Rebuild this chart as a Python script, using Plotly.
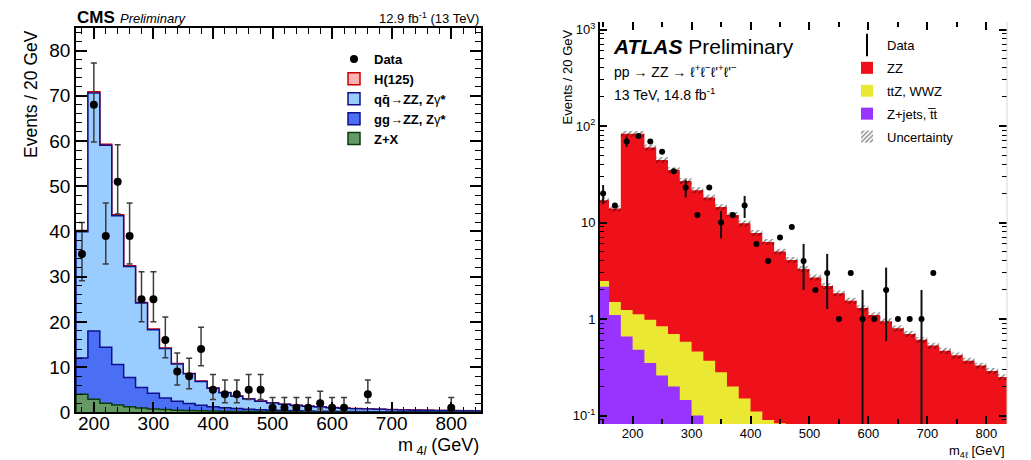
import numpy as np
import plotly.graph_objects as go

W, H = 1031, 460
FONT = "Liberation Sans"

# ---------------- CMS: four-lepton mass, 20 GeV bins 170-850 ----------------
cms_edges = list(range(170, 851, 20))
cms_h125 = [0.25, 0.30, 0.25, 0.20, 0.17, 0.14, 0.12, 0.10, 0.09, 0.08, 0.07, 0.06,
            0.05, 0.045, 0.04, 0.035, 0.03, 0.03, 0.025, 0.025, 0.02, 0.02, 0.02, 0.018,
            0.016, 0.015, 0.014, 0.013, 0.012, 0.011, 0.01, 0.01, 0.01, 0.01]
cms_qqzz = [27.95, 52.6, 44.65, 32.9, 24.53, 18.66, 14.08, 10.95, 8.26, 6.57, 5.28, 4.09,
            3.35, 2.74, 2.29, 1.91, 1.60, 1.37, 1.19, 1.04, 0.93, 0.81, 0.72, 0.64,
            0.57, 0.52, 0.47, 0.42, 0.38, 0.35, 0.32, 0.30, 0.27, 0.25]
cms_ggzz = [8.0, 15.1, 12.4, 9.0, 6.5, 4.55, 3.45, 2.55, 1.97, 1.55, 1.22, 0.98,
            0.78, 0.64, 0.52, 0.44, 0.37, 0.32, 0.27, 0.23, 0.20, 0.175, 0.15, 0.135,
            0.12, 0.10, 0.096, 0.089, 0.081, 0.073, 0.065, 0.062, 0.058, 0.054]
cms_zx = [4.0, 2.9, 2.0, 1.6, 1.2, 0.95, 0.75, 0.6, 0.48, 0.4, 0.33, 0.27,
          0.22, 0.18, 0.15, 0.12, 0.10, 0.085, 0.07, 0.06, 0.05, 0.045, 0.04, 0.035,
          0.03, 0.027, 0.024, 0.021, 0.019, 0.017, 0.015, 0.013, 0.012, 0.011]

cms_data_m = [180, 200, 220, 240, 260, 280, 300, 320, 340, 360, 380, 400, 420,
              440, 460, 480, 500, 520, 540, 560, 580, 600, 620, 660, 800]
cms_data_n = [35, 68, 39, 51, 39, 25, 25, 16, 9, 8, 14, 5, 4,
              4, 5, 5, 1, 1, 1, 1, 2, 1, 1, 4, 1]
cms_err_lo = [5.88, 8.22, 6.21, 7.12, 6.21, 4.96, 4.96, 3.95, 2.94, 2.77, 3.69, 2.16, 1.91,
              1.91, 2.16, 2.16, 0.83, 0.83, 0.83, 0.83, 1.29, 0.83, 0.83, 1.91, 0.83]
cms_err_hi = [6.97, 9.28, 7.29, 8.18, 7.29, 6.06, 6.06, 5.08, 4.10, 3.94, 4.83, 3.38, 3.16,
              3.16, 3.38, 3.38, 2.30, 2.30, 2.30, 2.30, 2.64, 2.30, 2.30, 3.16, 2.30]

# ---------------- ATLAS: four-lepton mass, 20 GeV bins 140-840 ----------------
atlas_edges = list(range(140, 841, 20))
atlas_zz = [14.5, 12.5, 81.8, 81.9, 59.0, 43.7, 34.3, 26.4, 21.2, 17.8, 14.2, 11.8,
            9.65, 7.69, 6.21, 4.92, 4.1, 3.3, 2.7, 2.2, 1.85, 1.55, 1.3, 1.1,
            0.95, 0.8, 0.7, 0.61, 0.53, 0.47, 0.42, 0.37, 0.33, 0.29, 0.25]
atlas_ttz_wwz = [0.32, 0.40, 0.58, 0.64, 0.63, 0.58, 0.50, 0.435, 0.36, 0.37, 0.28, 0.20,
                 0.15, 0.11, 0.09, 0.083, 0, 0, 0, 0, 0, 0, 0, 0,
                 0, 0, 0, 0, 0, 0, 0, 0, 0, 0, 0]
atlas_zjets_tt = [2.16, 1.10, 0.66, 0.48, 0.35, 0.26, 0.20, 0.145, 0.10, 0, 0, 0,
                  0, 0, 0, 0, 0, 0, 0, 0, 0, 0, 0, 0,
                  0, 0, 0, 0, 0, 0, 0, 0, 0, 0, 0]
atlas_syst = 0.07

atlas_data_m = [150, 170, 190, 210, 230, 250, 270, 290, 310, 330, 350, 370, 390, 410,
                430, 450, 470, 490, 510, 530, 550, 570, 590, 610, 630, 650, 670, 690, 710]
atlas_data_n = [20, 15, 69, 79, 69, 54, 34, 23, 12, 23, 10, 12, 15, 6,
                4, 7, 9, 4, 2, 3, 1, 3, 1, 1, 2, 1, 1, 1, 3]
atlas_err_up = [4.47, 0, 8.31, 0, 0, 0, 0, 4.80, 0, 0, 3.16, 0, 3.87, 0,
                0, 0, 0, 2.0, 0, 1.73, 0, 0, 1.0, 0, 1.41, 0, 0, 1.0, 0]
atlas_err_dn = [4.47, 0, 8.31, 0, 0, 0, 0, 4.80, 0, 0, 3.16, 0, 3.87, 0,
                0, 0, 0, 2.0, 0, 1.73, 0, 0, 0.92, 0, 1.41, 0, 0, 0.92, 0]


def step_polygon(edges, heights, floor):
    """Closed outline of a histogram drawn as steps down to `floor`."""
    xs, ys = [edges[0]], [floor]
    for lo, hi, h in zip(edges[:-1], edges[1:], heights):
        h = h if h > floor else floor
        xs += [lo, hi]
        ys += [h, h]
    xs.append(edges[-1])
    ys.append(floor)
    return xs, ys


def px_x(p):
    return p / W


def px_y(p):
    return 1 - p / H


fig = go.Figure()

# ---- CMS stacked histograms (drawn from the top of the stack downwards) ----
cms_layers = [cms_zx, cms_ggzz, cms_qqzz, cms_h125]
cms_cum = np.cumsum(np.array(cms_layers), axis=0)
cms_style = [  # fill, outline
    ("#669966", "#0b3d0b"),
    ("#4a6ff5", "#10108c"),
    ("#99ccff", "#10108c"),
    ("#ffb3b3", "#cc0000"),
]
for k in range(3, -1, -1):
    xs, ys = step_polygon(cms_edges, cms_cum[k], 0.0)
    fig.add_trace(go.Scatter(
        x=xs, y=ys, mode="lines", fill="toself",
        fillcolor=cms_style[k][0], line=dict(color=cms_style[k][1], width=1.5),
        showlegend=False, hoverinfo="skip", xaxis="x", yaxis="y"))

fig.add_trace(go.Scatter(
    x=cms_data_m, y=cms_data_n, mode="markers", name="Data",
    marker=dict(color="black", size=8),
    error_y=dict(type="data", symmetric=False, array=cms_err_hi, arrayminus=cms_err_lo,
                 color="#3c3c3c", thickness=1.5, width=3),
    legend="legend", legendrank=1, legendgroup="d", xaxis="x", yaxis="y"))

cms_leg = [
    ("H(125)", "#ffb3b3", "#cc0000"),
    ("qq\u0304\u2192ZZ, Z<span style='font-weight:normal'>\u03b3</span>*", "#99ccff", "#10108c"),
    ("gg\u2192ZZ, Z<span style='font-weight:normal'>\u03b3</span>*", "#4a6ff5", "#10108c"),
    ("Z+X", "#669966", "#0b3d0b"),
]
for i, (name, fc, lc) in enumerate(cms_leg):
    fig.add_trace(go.Bar(
        x=[None], y=[None], name=name,
        marker=dict(color=fc, line=dict(color=lc, width=1.5)),
        legend="legend", legendrank=2 + i, legendgroup="c%d" % i,
        xaxis="x", yaxis="y"))

# ---- ATLAS stacked histograms on a log scale ----
FLOOR = 1e-3
atlas_layers = [atlas_zjets_tt, atlas_ttz_wwz, atlas_zz]
atlas_cum = np.cumsum(np.array(atlas_layers), axis=0)
atlas_fill = ["#9933ff", "#ebe834", "#ee1119"]
for k in range(2, -1, -1):
    xs, ys = step_polygon(atlas_edges, atlas_cum[k], FLOOR)
    fig.add_trace(go.Scatter(
        x=xs, y=ys, mode="lines", fill="toself", fillcolor=atlas_fill[k],
        line=dict(width=0), showlegend=False, hoverinfo="skip",
        xaxis="x2", yaxis="y2"))

# uncertainty band around the total prediction
tot = atlas_cum[2]
ux, uy = step_polygon(atlas_edges, tot * (1 + atlas_syst), FLOOR)
lx, ly = step_polygon(atlas_edges, tot * (1 - atlas_syst), FLOOR)
band_x = ux[1:-1] + lx[1:-1][::-1]
band_y = uy[1:-1] + ly[1:-1][::-1]
fig.add_trace(go.Scatter(
    x=band_x, y=band_y, mode="lines", fill="toself", fillcolor="rgba(0,0,0,0)",
    fillpattern=dict(shape="/", fgcolor="black", bgcolor="rgba(0,0,0,0)", size=4, solidity=0.35),
    line=dict(width=0), showlegend=False, hoverinfo="skip", xaxis="x2", yaxis="y2"))

fig.add_trace(go.Scatter(
    x=atlas_data_m, y=atlas_data_n, mode="markers", showlegend=False,
    marker=dict(color="black", size=6),
    error_y=dict(type="data", symmetric=False, array=atlas_err_up, arrayminus=atlas_err_dn,
                 color="#111111", thickness=2, width=0),
    xaxis="x2", yaxis="y2"))

fig.add_trace(go.Scatter(
    x=[None], y=[None], mode="markers", name="Data",
    marker=dict(symbol="line-ns-open", size=16, color="black", line=dict(width=2, color="black")),
    legend="legend2", legendrank=1, legendgroup="a0", xaxis="x2", yaxis="y2"))
atlas_leg = [
    ("ZZ", dict(color="#ee1119")),
    ("ttZ, WWZ", dict(color="#ebe834")),
    ("Z+jets, t\u0305t", dict(color="#9933ff")),
    ("Uncertainty", dict(color="white",
                         pattern=dict(shape="/", fgcolor="black", size=4, solidity=0.4))),
]
for i, (name, mk) in enumerate(atlas_leg):
    fig.add_trace(go.Bar(
        x=[None], y=[None], name=name, marker=dict(line=dict(width=0), **mk),
        legend="legend2", legendrank=2 + i, legendgroup="a%d" % (i + 1),
        xaxis="x2", yaxis="y2"))

# ---- axes ----
cms_axis = dict(
    ticks="inside", tickcolor="black", tickwidth=1.5, ticklen=11,
    showline=True, linecolor="black", linewidth=1.5, mirror="allticks",
    showgrid=False, zeroline=False, fixedrange=True, layer="above traces",
    tickfont=dict(family=FONT, size=19, color="black"),
)
atlas_axis = dict(
    ticks="inside", tickcolor="black", tickwidth=1.5, ticklen=8,
    showline=True, linecolor="rgba(0,0,0,0)", linewidth=1, mirror="allticks",
    showgrid=False, zeroline=False, fixedrange=True, layer="above traces",
    tickfont=dict(family=FONT, size=13, color="black"),
)

fig.update_layout(
    width=W, height=H,
    margin=dict(l=0, r=0, t=0, b=0, pad=0, autoexpand=False),
    paper_bgcolor="white", plot_bgcolor="white",
    font=dict(family=FONT, color="black"),
    barmode="overlay", showlegend=True,
    xaxis=dict(domain=[px_x(76), px_x(481)], anchor="y", range=[170, 850],
               tick0=0, dtick=100, ticklabelstandoff=-7,
               minor=dict(dtick=20, tick0=0, ticks="inside", ticklen=6, tickwidth=1.2,
                          tickcolor="black"),
               **cms_axis),
    yaxis=dict(domain=[px_y(412.3), px_y(28)], anchor="x", range=[0, 85],
               tick0=0, dtick=10,
               minor=dict(dtick=2, tick0=0, ticks="inside", ticklen=6, tickwidth=1.2,
                          tickcolor="black"),
               **cms_axis),
    xaxis2=dict(domain=[px_x(599), px_x(1007)], anchor="y2", range=[143, 835],
                tick0=0, dtick=100, ticklabelstandoff=-3,
                minor=dict(dtick=50, tick0=0, ticks="inside", ticklen=5, tickwidth=1.5,
                           tickcolor="black"),
                **atlas_axis),
    yaxis2=dict(domain=[px_y(424), px_y(22)], anchor="x2", type="log",
                range=[-1.088, 3.078],
                tickmode="array", tickvals=[0.1, 1, 10, 100, 1000],
                ticktext=["10<sup>-1</sup>", "1", "10", "10<sup>2</sup>", "10<sup>3</sup>"],
                minor=dict(dtick="D1", ticks="inside", ticklen=5, tickwidth=1.2,
                           tickcolor="black"),
                **atlas_axis),
    legend=dict(x=px_x(334), y=px_y(44), xanchor="left", yanchor="top",
                bgcolor="rgba(0,0,0,0)", traceorder="grouped", tracegroupgap=0,
                font=dict(family=FONT, size=13, weight="bold", color="black")),
    legend2=dict(x=px_x(847), y=px_y(30), xanchor="left", yanchor="top",
                 bgcolor="rgba(0,0,0,0)", traceorder="grouped", tracegroupgap=3,
                 font=dict(family=FONT, size=13, color="black")),
)

# ATLAS frame: solid left axis, faint right edge
fig.add_shape(type="line", xref="x2 domain", yref="y2 domain", x0=0, x1=0, y0=0, y1=1,
              line=dict(color="black", width=2))
fig.add_shape(type="line", xref="x2 domain", yref="y2 domain", x0=1, x1=1, y0=0, y1=1,
              line=dict(color="#d8d8d8", width=1))


def note(text, x, y, size, xanchor="left", yanchor="middle", angle=0):
    fig.add_annotation(text=text, x=px_x(x), y=px_y(y), xref="paper", yref="paper",
                       xanchor=xanchor, yanchor=yanchor, textangle=angle, showarrow=False,
                       font=dict(family=FONT, size=size, color="black"))


# CMS labels
note("<b>CMS</b>", 75, 17.5, 17)
note("<i>Preliminary</i>", 118, 18.5, 13)
note("12.9 fb<sup>-1</sup> (13 TeV)", 481, 17.5, 13, xanchor="right")
note("Events / 20 GeV", 31, 28, 17.5, xanchor="center", yanchor="top", angle=-90)
note("m<sub> 4<i>l</i></sub> (GeV)", 481, 446, 18, xanchor="right")

# ATLAS labels
note("<b><i>ATLAS</i></b> Preliminary", 611, 46.5, 21)
note("pp \u2192 ZZ \u2192 \u2113<sup>+</sup>\u2113<sup>\u2212</sup>\u2113'<sup>+</sup>\u2113'<sup>\u2212</sup>",
     612, 71, 14)
note("13 TeV, 14.8 fb<sup>-1</sup>", 612, 94, 14)
note("Events / 20 GeV", 567, 28, 13, xanchor="center", yanchor="top", angle=-90)
note("m<sub>4\u2113</sub> [GeV]", 1007, 451, 13, xanchor="right")

fig.write_html("out.html")
